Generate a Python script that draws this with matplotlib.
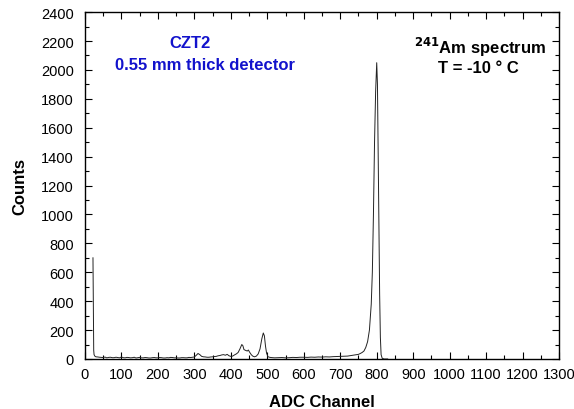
import matplotlib
matplotlib.use("Agg")
import matplotlib.pyplot as plt
from matplotlib.ticker import MultipleLocator

plt.rcParams['font.family'] = ['Liberation Sans', 'DejaVu Sans']

channels = [22, 23, 24, 25, 27, 30, 35, 40, 45, 50, 55, 60, 65, 70, 75, 80, 85, 90, 95,
            100, 105, 110, 115, 120, 125, 130, 135, 140, 145, 150, 155, 160, 165, 170, 175,
            180, 185, 190, 195, 200, 205, 210, 215, 220, 225, 230, 235, 240, 245, 250, 255,
            260, 265, 270, 275, 280, 285, 290, 295, 300, 305, 310, 315, 320, 325, 330, 335,
            340, 345, 350, 355, 360, 365, 370, 375, 380, 385, 390, 395, 400, 405, 410, 415,
            420, 425, 430, 433, 436, 440, 445, 448, 452, 456, 460, 465, 470, 475, 480, 485,
            489, 492, 495, 498, 502, 506, 510, 515, 520, 530, 540, 550, 560, 570, 580, 590,
            600, 610, 620, 630, 640, 650, 660, 670, 680, 690, 700, 710, 720, 730, 740, 750,
            755, 760, 765, 770, 775, 780, 785, 788, 791, 794, 797, 800, 802, 804, 806, 808,
            810, 812, 815, 820, 830]
counts = [700, 400, 60, 30, 20, 15, 14, 12, 11, 10, 13, 8, 11, 12, 9, 9, 12, 10, 8,
          14, 9, 8, 11, 10, 8, 9, 12, 7, 9, 11, 8, 8, 10, 9, 7,
          7, 9, 10, 8, 8, 10, 9, 7, 7, 9, 8, 11, 10, 8, 8, 7,
          7, 9, 9, 8, 8, 11, 10, 12, 14, 25, 38, 30, 18, 15, 14, 12,
          12, 14, 15, 17, 18, 22, 24, 28, 30, 26, 32, 22, 18, 20, 28, 35,
          45, 70, 100, 92, 65, 60, 55, 62, 45, 30, 20, 15, 20, 35, 70, 140,
          180, 160, 90, 40, 15, 12, 10, 9, 8, 9, 10, 8, 9, 11, 10, 12,
          12, 11, 13, 12, 14, 13, 15, 14, 16, 17, 18, 19, 20, 24, 28, 32,
          38, 45, 55, 80, 120, 200, 380, 600, 1000, 1500, 1850, 2050, 1900, 1400, 900, 450,
          150, 30, 5, 0, 0]

fig = plt.figure(figsize=(5.74, 4.10), dpi=100)
ax = fig.add_axes([0.148, 0.122, 0.826, 0.846])
ax.plot(channels, counts, color='#222222', lw=0.7)

ax.set_xlim(0, 1300)
ax.set_ylim(0, 2400)
ax.xaxis.set_major_locator(MultipleLocator(100))
ax.xaxis.set_minor_locator(MultipleLocator(50))
ax.yaxis.set_major_locator(MultipleLocator(200))
ax.yaxis.set_minor_locator(MultipleLocator(100))
ax.tick_params(which='both', direction='in', top=True, right=True, labelsize=10.5)
ax.tick_params(which='major', length=5, width=0.8)
ax.tick_params(which='minor', length=3, width=0.8)
ax.tick_params(axis='x', which='major', pad=6)
ax.tick_params(axis='y', which='major', pad=8)
for s in ax.spines.values():
    s.set_linewidth(1.0)

ax.set_xlabel('ADC Channel', fontsize=12, fontweight='bold', labelpad=9)
ax.set_ylabel('Counts', fontsize=12, fontweight='bold', labelpad=10)

blue = '#1212cc'
ax.text(0.222, 0.911, 'CZT2', transform=ax.transAxes, ha='center', va='center',
        color=blue, fontsize=12, fontweight='bold')
ax.text(0.253, 0.850, '0.55 mm thick detector', transform=ax.transAxes, ha='center', va='center',
        color=blue, fontsize=12, fontweight='bold')
ax.text(0.833, 0.902, r'$^{\mathbf{241}}$Am spectrum', transform=ax.transAxes, ha='center', va='center',
        color='black', fontsize=12, fontweight='bold')
ax.text(0.829, 0.841, 'T = -10 ° C', transform=ax.transAxes, ha='center', va='center',
        color='black', fontsize=12, fontweight='bold')

fig.savefig('out.png', dpi=100)
